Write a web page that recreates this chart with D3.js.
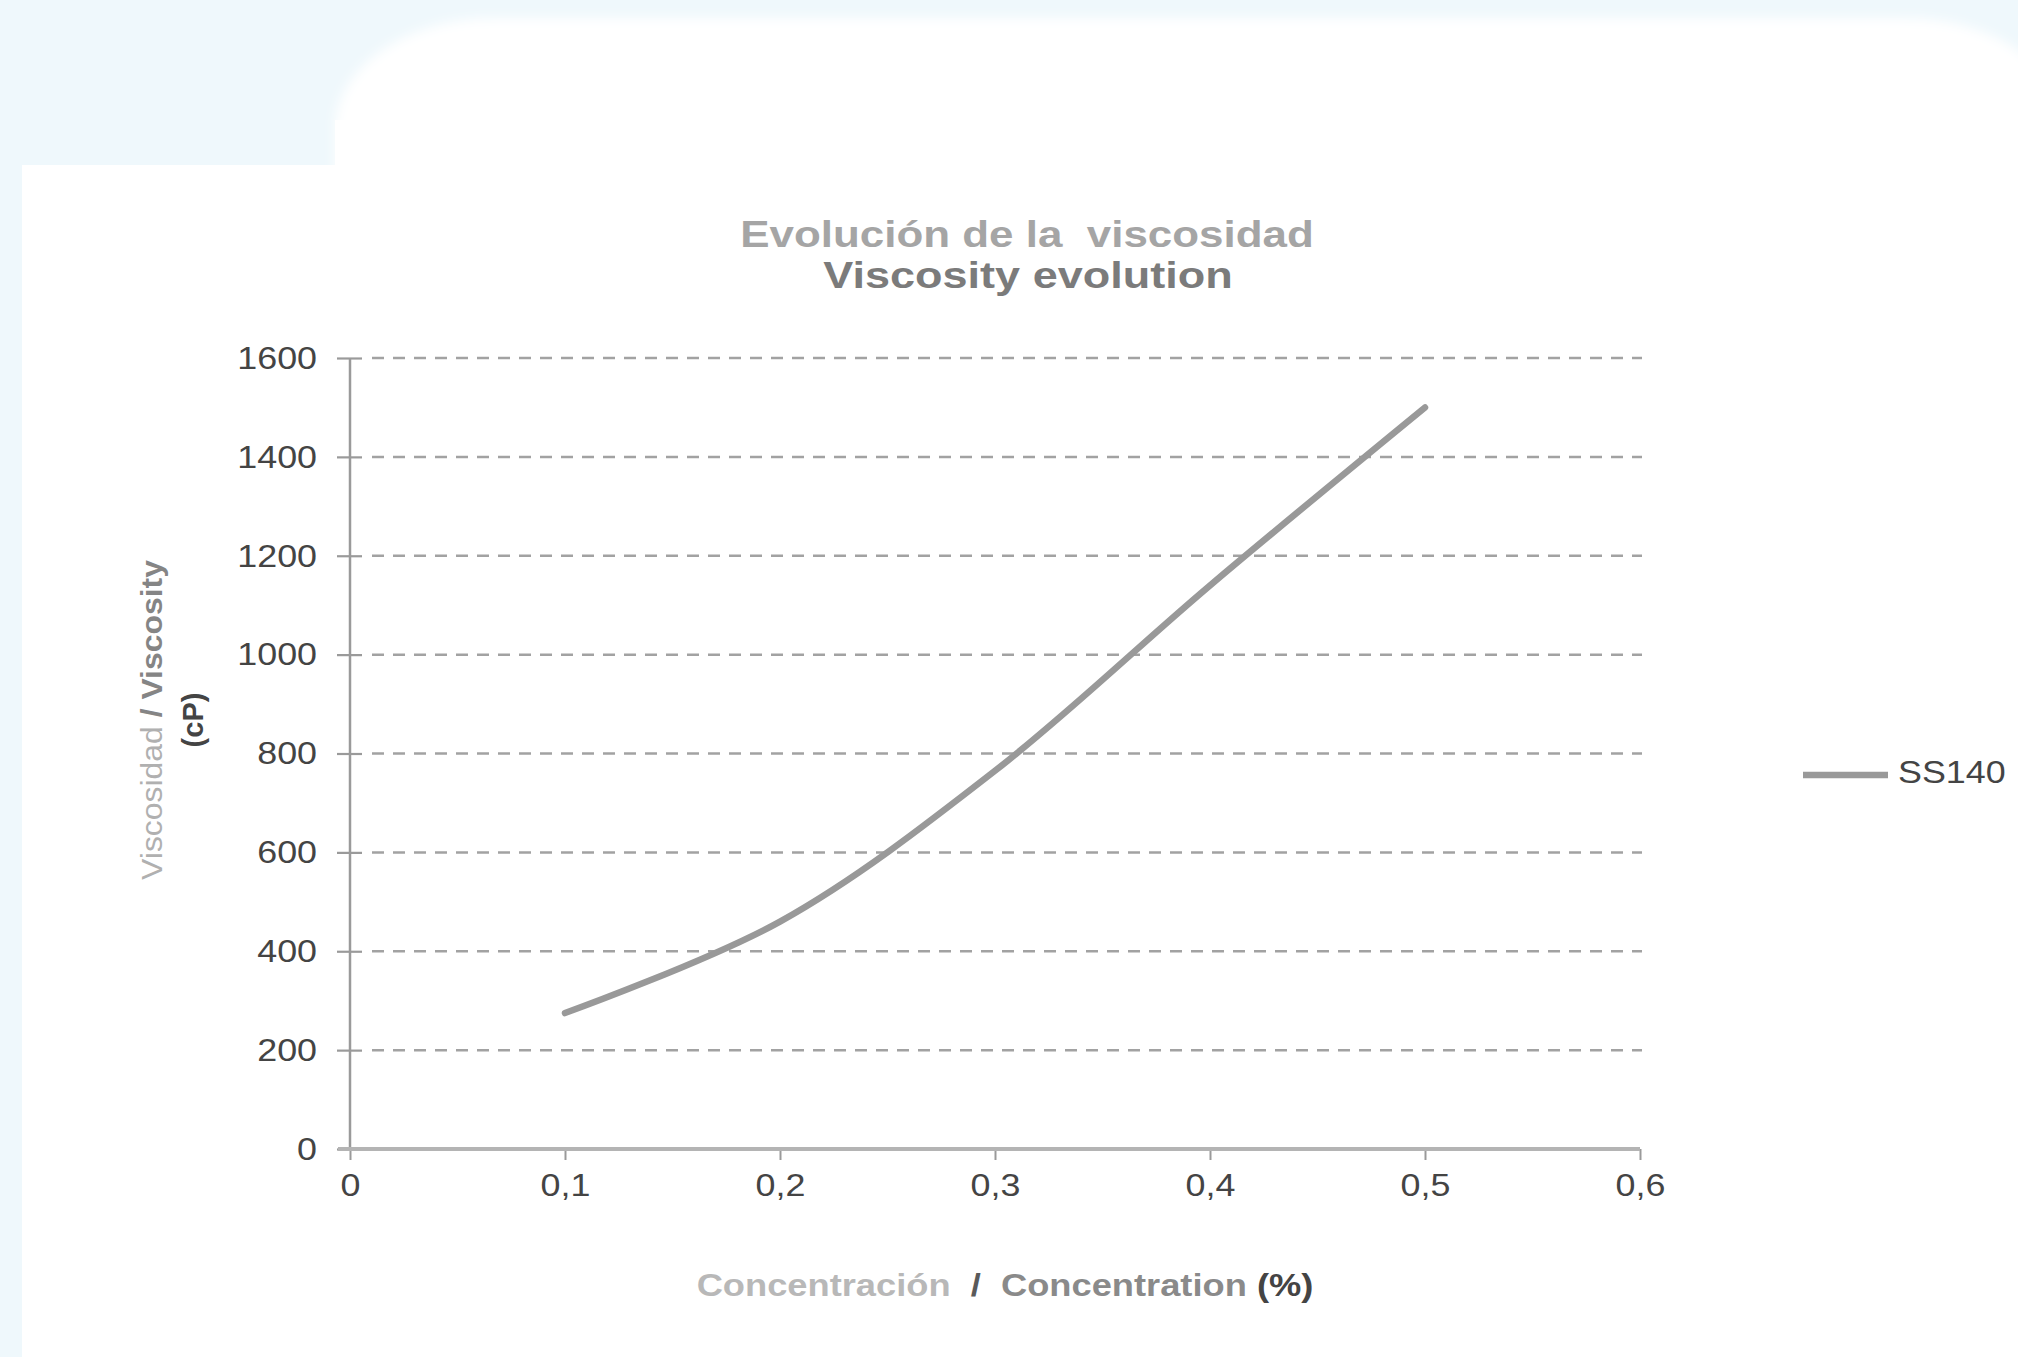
<!DOCTYPE html>
<html lang="es">
<head>
<meta charset="UTF-8">
<title>Viscosity evolution</title>
<script src="https://d3js.org/d3.v7.min.js"></script>
<style>
    body { margin: 0; background: #eff8fc; }
    svg { display: block; font-family: "Liberation Sans", Arial, sans-serif; }
    text { white-space: pre; }
    .tickLabel { fill: #444444; font-size: 32px; }
</style>
</head>
<body>
<script>

    // data
    var concentration = [0.1, 0.2, 0.3, 0.4, 0.5];
    var viscosity = [275, 460, 765, 1140, 1500];
    var seriesName = "SS140";
    var xTicks = [0, 0.1, 0.2, 0.3, 0.4, 0.5, 0.6];
    var yTicks = [0, 200, 400, 600, 800, 1000, 1200, 1400, 1600];

    var width = 2018;
    var height = 1357;
    var margin = { left: 350, top: 358, right: 378, bottom: 208 };
    var plotW = width - margin.left - margin.right;
    var plotH = height - margin.top - margin.bottom;

    var svg = d3.select("body").append("svg")
        .attr("width", width)
        .attr("height", height);

    // page background pieces (screenshot look)
    var defs = svg.append("defs");
    defs.append("filter").attr("id", "soft")
        .attr("x", "-10%").attr("y", "-10%").attr("width", "120%").attr("height", "120%")
        .append("feGaussianBlur").attr("stdDeviation", 6);

    svg.append("rect")
        .attr("x", 335).attr("y", 18)
        .attr("width", 1730).attr("height", 600)
        .attr("rx", 160).attr("ry", 110)
        .attr("fill", "#ffffff")
        .attr("filter", "url(#soft)");

    svg.append("rect")
        .attr("x", 22).attr("y", 165)
        .attr("width", width - 22).attr("height", height - 165)
        .attr("fill", "#ffffff");

    svg.append("rect")
        .attr("x", 335).attr("y", 120)
        .attr("width", width - 335).attr("height", 100)
        .attr("fill", "#ffffff");

    // stretch text horizontally like the source image
    function stretch(sel, k) {
        sel.each(function () {
            var len = this.getComputedTextLength();
            d3.select(this)
                .attr("textLength", len * k)
                .attr("lengthAdjust", "spacingAndGlyphs");
        });
    }

    var x = d3.scaleLinear().domain([0, 0.6]).range([0, plotW]);
    var y = d3.scaleLinear().domain([0, 1600]).range([plotH, 0]);

    var g = svg.append("g")
        .attr("transform", "translate(" + margin.left + "," + margin.top + ")");

    // dashed gridlines
    g.append("g")
        .selectAll("line")
        .data(yTicks.filter(function (d) { return d > 0; }))
        .enter()
        .append("line")
        .attr("x1", 22)
        .attr("x2", plotW + 2)
        .attr("y1", function (d) { return y(d); })
        .attr("y2", function (d) { return y(d); })
        .attr("stroke", "#a2a2a2")
        .attr("stroke-width", 2.5)
        .attr("stroke-dasharray", "12,9");

    // y axis
    var yAxis = g.append("g")
        .call(d3.axisLeft(y).tickValues(yTicks).tickSize(13).tickPadding(20)
            .tickFormat(d3.format("d")));
    yAxis.select(".domain").remove();
    yAxis.selectAll(".tick line")
        .attr("x2", -13).attr("x1", 12)
        .attr("stroke", "#9a9a9a").attr("stroke-width", 2.2);
    yAxis.selectAll(".tick text")
        .attr("class", "tickLabel")
        .attr("font-family", null).attr("font-size", null)
        .attr("fill", null);
    g.append("line")
        .attr("x1", 0).attr("x2", 0)
        .attr("y1", 0).attr("y2", plotH)
        .attr("stroke", "#9a9a9a").attr("stroke-width", 2.5);

    // x axis
    var xAxis = g.append("g")
        .attr("transform", "translate(0," + plotH + ")")
        .call(d3.axisBottom(x).tickValues(xTicks).tickSize(11).tickPadding(13)
            .tickFormat(function (d) { return d3.format(".1f")(d).replace(".", ",").replace(/^0,0$/, "0"); }));
    xAxis.select(".domain").remove();
    xAxis.selectAll(".tick line")
        .attr("stroke", "#9a9a9a").attr("stroke-width", 2);
    xAxis.selectAll(".tick text")
        .attr("class", "tickLabel")
        .attr("font-family", null).attr("font-size", null)
        .attr("fill", null);
    g.append("line")
        .attr("x1", -12).attr("x2", plotW)
        .attr("y1", plotH).attr("y2", plotH)
        .attr("stroke", "#b4b4b4").attr("stroke-width", 4);

    stretch(svg.selectAll(".tickLabel"), 1.12);

    // series
    var line = d3.line()
        .x(function (d) { return x(d[0]); })
        .y(function (d) { return y(d[1]); })
        .curve(d3.curveCatmullRom);

    g.append("path")
        .datum(d3.zip(concentration, viscosity))
        .attr("d", line)
        .attr("fill", "none")
        .attr("stroke", "#999999")
        .attr("stroke-width", 6.5)
        .attr("stroke-linecap", "round");

    // legend
    var legend = svg.append("g").attr("transform", "translate(1803,775)");
    legend.append("line")
        .attr("x1", 0).attr("x2", 85)
        .attr("stroke", "#999999").attr("stroke-width", 6.5);
    legend.append("text")
        .attr("x", 95).attr("y", 8)
        .attr("fill", "#444444").attr("font-size", "32px")
        .text(seriesName)
        .call(stretch, 1.12);

    // title
    svg.append("text")
        .attr("x", 1027).attr("y", 247)
        .attr("text-anchor", "middle")
        .attr("font-size", "36px").attr("font-weight", "bold")
        .attr("fill", "#a5a5a5")
        .text("Evolución de la  viscosidad")
        .call(stretch, 1.22);
    svg.append("text")
        .attr("x", 1028).attr("y", 288)
        .attr("text-anchor", "middle")
        .attr("font-size", "36px").attr("font-weight", "bold")
        .attr("fill", "#7b7b7b")
        .text("Viscosity evolution")
        .call(stretch, 1.25);

    // y axis title
    var yTitle = svg.append("g").attr("transform", "translate(152,720) rotate(-90)");
    var yt1 = yTitle.append("text")
        .attr("text-anchor", "middle").attr("dominant-baseline", "central")
        .attr("font-size", "29px");
    yt1.append("tspan").attr("fill", "#b0b0b0").text("Viscosidad ");
    yt1.append("tspan").attr("fill", "#858585").attr("font-weight", "bold").text("/ Viscosity");
    yt1.call(stretch, 1.1);
    yTitle.append("text")
        .attr("y", 41)
        .attr("text-anchor", "middle").attr("dominant-baseline", "central")
        .attr("font-size", "29px").attr("font-weight", "bold")
        .attr("fill", "#444444")
        .text("(cP)");

    // x axis title
    var xt = svg.append("text")
        .attr("x", 1005).attr("y", 1296)
        .attr("text-anchor", "middle")
        .attr("font-size", "31px").attr("font-weight", "bold");
    xt.append("tspan").attr("fill", "#b8b8b8").text("Concentración");
    xt.append("tspan").attr("fill", "#5a5a5a").text("  /  ");
    xt.append("tspan").attr("fill", "#8a8a8a").text("Concentration ");
    xt.append("tspan").attr("fill", "#444444").text("(%)");
    xt.call(stretch, 1.17);

</script>
</body>
</html>
